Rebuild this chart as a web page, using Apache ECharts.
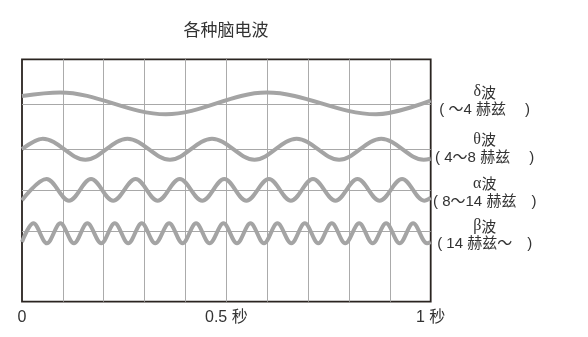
<!DOCTYPE html>
<html>
<head>
<meta charset="utf-8">
<script src="https://cdn.jsdelivr.net/npm/echarts@6/dist/echarts.min.js"></script>
<style>html,body{margin:0;padding:0;background:#fff;}#c{width:588px;height:337px;}</style>
</head>
<body>
<div id="c"></div>
<script>
// ---- data ----
const titleText = '各种脑电波';
const xLabelValues = [0, 0.5, 1];
const xLabelTexts = ['0', '0.5 秒', '1 秒'];

const waveGreek = ['δ', 'θ', 'α', 'β'];
const waveNames = ['波', '波', '波', '波'];
const waveRanges = ['( ～4 赫兹　 )', '( 4～8 赫兹　 )', '( 8～14 赫兹　)', '( 14 赫兹～　)'];
const baselines = [19.74, 15.27, 11.10, 7.00];

// δ wave: time (s), level
const deltaT = [0, 0.093, 0.352, 0.599, 0.866, 1];
const deltaV = [20.57, 20.92, 18.74, 20.91, 18.74, 20.10];

// θ wave
const thetaT = [0, 0.051, 0.155, 0.258, 0.362, 0.465, 0.569, 0.672, 0.776, 0.879, 0.983, 1];
const thetaV = [15.25, 16.30, 14.20, 16.30, 14.20, 16.30, 14.20, 16.30, 14.20, 16.30, 14.20, 14.30];

// α wave
const alphaT = [0, 0.060, 0.115, 0.169, 0.223, 0.278, 0.332, 0.386, 0.441, 0.495, 0.549,
                0.604, 0.658, 0.712, 0.767, 0.821, 0.875, 0.930, 0.984, 1];
const alphaV = [10.15, 12.27, 10.10, 12.27, 10.10, 12.27, 10.10, 12.27, 10.10, 12.27, 10.10,
                12.27, 10.10, 12.27, 10.10, 12.27, 10.10, 12.27, 10.10, 10.40];

// β wave
const betaT = [0, 0.028, 0.061, 0.094, 0.127, 0.160, 0.194, 0.227, 0.260, 0.293, 0.326,
               0.360, 0.393, 0.426, 0.459, 0.493, 0.526, 0.559, 0.592, 0.625, 0.659,
               0.692, 0.725, 0.758, 0.791, 0.825, 0.858, 0.891, 0.924, 0.957, 0.991, 1];
const betaV = [5.98, 7.84, 5.84, 7.84, 5.84, 7.84, 5.84, 7.84, 5.84, 7.84, 5.84,
               7.84, 5.84, 7.84, 5.84, 7.84, 5.84, 7.84, 5.84, 7.84, 5.84,
               7.84, 5.84, 7.84, 5.84, 7.84, 5.84, 7.84, 5.84, 7.84, 5.84, 5.95];

// ---- chart ----
const waves = [[deltaT, deltaV], [thetaT, thetaV], [alphaT, alphaV], [betaT, betaV]];
const labelPads = [[0, 0, 7, 0], [0, 0, 1, 0], [4, 0, 0, 0], [7, 0, 0, 0]];
const FONT = '"Noto Sans CJK SC", "Noto Sans", sans-serif';
const LFONT = '"Liberation Sans", "Noto Sans CJK SC", sans-serif';
const TXT = '#333333';

const chart = echarts.init(document.getElementById('c'), null, {renderer: 'canvas'});

const series = waves.map((w, i) => ({
  type: 'line',
  data: w[0].map((t, k) => [t, w[1][k]]),
  smooth: 0.35,
  showSymbol: false,
  silent: true,
  z: 3,
  lineStyle: {color: '#a4a4a4', width: 4},
  markLine: {
    silent: true,
    z: 1,
    symbol: ['none', 'none'],
    animation: false,
    lineStyle: {color: '#a8a8a8', width: 1, type: 'solid'},
    data: [{
      yAxis: baselines[i],
      label: {
        show: true,
        position: 'end',
        distance: 54,
        align: 'center',
        verticalAlign: 'middle',
        padding: labelPads[i],
        formatter: '{g|' + waveGreek[i] + '}{c|' + waveNames[i] + '}\n{r|' + waveRanges[i] + '}',
        rich: {
          g: {fontFamily: '"Liberation Serif", serif', fontSize: 16, color: TXT, lineHeight: 18},
          c: {fontFamily: FONT, fontSize: 15, color: TXT, lineHeight: 18},
          r: {fontFamily: LFONT, fontSize: 15, color: TXT, lineHeight: 18}
        }
      }
    }]
  }
}));

chart.setOption({
  animation: false,
  backgroundColor: '#ffffff',
  title: {
    text: titleText,
    left: 183.5,
    top: 21.5,
    padding: 0,
    textStyle: {fontFamily: FONT, fontSize: 17, fontWeight: 'normal', color: TXT}
  },
  grid: {
    left: 22, right: 157.3, top: 59.3, bottom: 35.3,
    show: true, borderColor: '#2a2420', borderWidth: 1.8, backgroundColor: 'transparent'
  },
  xAxis: {
    type: 'value', min: 0, max: 1, interval: 0.1,
    axisLine: {show: false},
    axisTick: {show: false},
    splitLine: {show: true, showMinLine: false, showMaxLine: false,
                lineStyle: {color: '#ababab', width: 1}},
    axisLabel: {
      show: true, margin: 8, showMinLabel: true, showMaxLabel: true,
      fontFamily: LFONT, fontSize: 16, color: TXT,
      formatter: v => {
        const i = xLabelValues.findIndex(u => Math.abs(u - v) < 1e-6);
        return i >= 0 ? xLabelTexts[i] : '';
      }
    }
  },
  yAxis: {
    type: 'value', min: 0, max: 24.24,
    axisLine: {show: false}, axisTick: {show: false},
    axisLabel: {show: false}, splitLine: {show: false}
  },
  series: series
});
</script>
</body>
</html>
